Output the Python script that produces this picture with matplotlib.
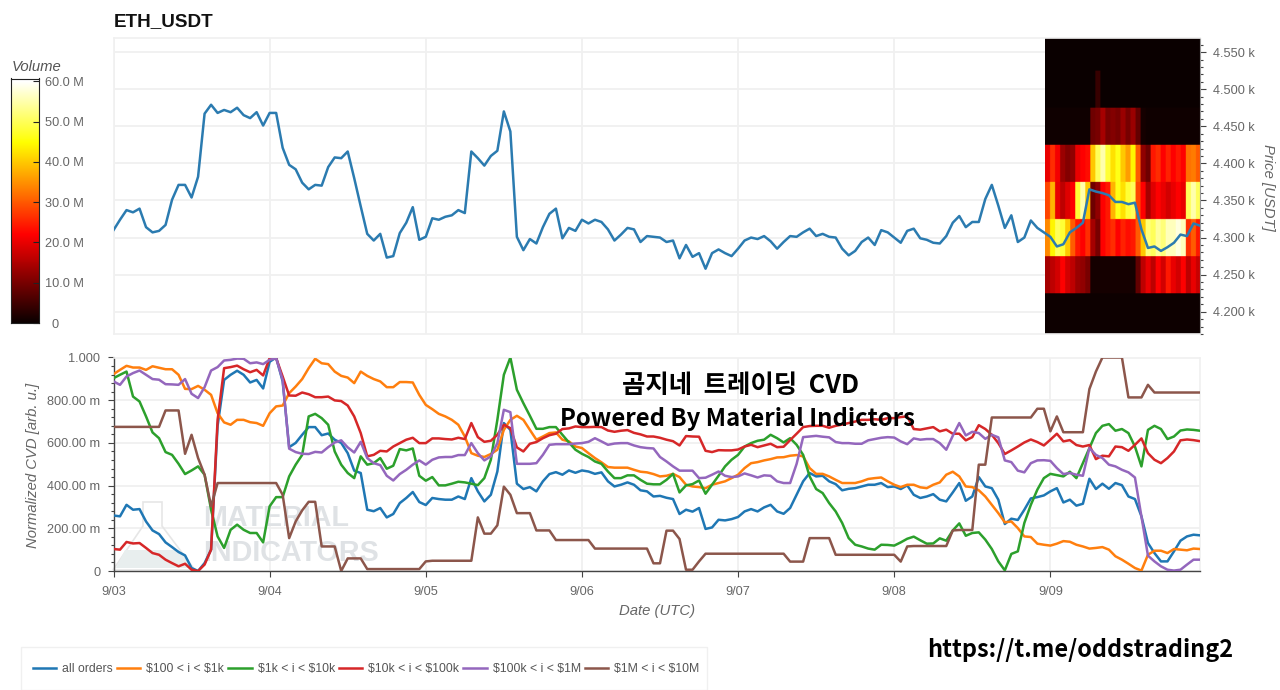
import numpy as np
import pandas as pd
import matplotlib
matplotlib.use("Agg")
import matplotlib.pyplot as plt
import matplotlib.dates as mdates
from matplotlib.lines import Line2D
from matplotlib.patches import Polygon, Rectangle
from matplotlib.ticker import FixedLocator, FuncFormatter, MultipleLocator

plt.rcParams['font.family'] = ['Liberation Sans', 'Noto Sans CJK KR', 'DejaVu Sans']
plt.rcParams['text.parse_math'] = False

# hourly values, one row per day, 9/03 to 9/09
price = [
    4310,4324,4337,4334,4339,4314,4307,4309,4317,4351,4371,4371,4354,4382,4467,4479,4468,4472,4469,4475,4465,4461,4469,4451,
    4468,4468,4421,4398,4392,4374,4365,4371,4370,4395,4408,4407,4416,4380,4342,4305,4296,4305,4273,4275,4306,4320,4341,4297,
    4301,4326,4324,4328,4330,4337,4333,4416,4407,4397,4410,4417,4470,4443,4301,4283,4298,4292,4314,4332,4339,4299,4313,4309,
    4324,4319,4324,4321,4311,4296,4304,4313,4311,4294,4302,4301,4300,4294,4296,4272,4290,4274,4279,4258,4279,4284,4279,4275,
    4285,4296,4300,4298,4302,4295,4285,4294,4302,4301,4307,4312,4302,4305,4301,4300,4285,4276,4282,4294,4300,4290,4310,4307,
    4300,4293,4309,4312,4299,4297,4293,4292,4302,4320,4329,4314,4321,4321,4352,4371,4343,4313,4330,4294,4300,4323,4313,4307,
    4301,4288,4291,4307,4313,4320,4365,4362,4360,4357,4348,4348,4345,4347,4311,4286,4288,4282,4287,4293,4304,4302,4319,4316,
]

# CVD in milli units (the axis reads 800.00 m)
cvd_all = [
    260,256,310,287,290,232,190,173,134,112,89,73,14,0,37,100,680,895,919,938,919,883,895,855,
    980,1000,888,580,600,638,674,674,636,644,615,600,552,470,459,287,280,295,251,267,318,342,370,323,
    309,342,337,334,334,349,337,435,373,326,357,466,693,661,409,384,393,373,420,454,463,451,471,460,
    471,466,455,462,420,396,404,415,404,378,373,349,352,343,337,267,287,278,295,197,204,240,237,243,
    253,279,290,279,298,310,279,268,295,357,420,459,443,446,420,407,378,385,388,396,404,404,412,393,
    396,384,401,357,342,349,360,334,326,368,412,329,349,440,396,388,334,220,245,239,287,340,346,354,
    373,388,321,334,306,315,432,384,409,385,412,402,349,337,256,131,84,45,45,92,142,162,170,167,
]
cvd_100_1k = [
    922,942,961,953,953,942,959,952,945,945,919,853,852,867,849,825,739,696,685,708,708,697,693,680,
    739,771,775,833,864,899,950,994,973,969,934,914,906,880,934,914,899,888,861,861,885,885,883,825,
    778,758,736,724,708,685,630,552,540,534,548,568,661,708,727,708,661,615,630,646,649,615,607,583,
    576,552,529,509,487,484,484,484,474,465,462,454,443,446,455,440,404,396,393,388,404,412,420,435,
    451,482,505,510,518,524,532,533,540,543,537,482,455,455,443,427,412,412,412,420,431,435,438,420,
    404,393,404,404,392,388,404,415,451,465,443,396,393,378,349,310,271,228,232,201,162,159,128,123,
    119,128,140,137,123,115,105,108,112,100,69,53,34,14,2,76,95,95,84,103,100,97,105,103,
]
cvd_1k_10k = [
    903,919,934,817,794,724,649,622,557,544,502,454,471,490,451,287,162,108,193,217,193,178,178,134,
    303,346,346,443,498,544,724,736,716,685,560,498,459,435,537,498,505,529,479,493,571,565,574,446,
    423,440,401,401,409,418,415,409,402,435,521,708,919,1000,849,786,727,666,666,674,674,638,602,568,
    549,534,513,502,466,435,435,448,448,427,409,406,406,427,455,368,401,407,424,362,404,446,490,521,
    544,583,599,610,615,638,622,602,622,591,544,443,384,365,318,279,225,154,123,115,105,100,123,122,
    119,134,151,161,144,128,129,153,142,190,223,165,178,181,147,103,45,3,80,92,225,310,381,435,
    455,449,443,465,435,505,576,646,680,688,657,665,646,583,490,661,680,665,618,630,658,663,661,657,
]
cvd_10k_100k = [
    103,100,136,129,131,108,84,76,53,37,22,34,6,0,30,100,708,950,955,962,945,931,942,916,
    997,997,911,822,821,836,828,814,814,817,799,796,775,724,646,537,544,563,560,583,599,615,624,599,
    599,621,621,618,616,624,618,693,627,605,610,638,685,669,579,560,596,604,622,636,643,665,668,677,
    674,674,675,674,658,652,657,660,647,640,630,630,624,615,608,588,632,630,629,563,557,566,565,565,
    569,583,591,580,588,596,580,582,613,643,674,679,680,680,671,680,686,693,700,708,708,711,708,716,
    716,721,724,665,662,668,674,654,662,643,643,612,627,683,665,638,599,548,565,583,602,616,604,588,
    615,643,607,613,590,583,590,524,540,537,583,580,563,591,621,552,521,505,529,560,612,616,613,608,
]
cvd_100k_1m = [
    888,872,911,927,939,919,899,896,875,874,872,899,830,810,861,939,955,986,989,995,994,973,977,969,
    989,997,895,573,557,549,548,558,555,580,602,612,579,555,605,529,505,496,446,424,454,474,498,518,
    498,521,532,534,534,543,543,599,552,518,537,599,755,744,502,502,502,505,544,591,594,594,594,597,
    599,605,622,607,591,597,599,599,588,580,576,574,534,513,490,470,470,470,435,437,451,466,446,440,
    443,457,448,438,448,446,420,412,412,502,627,630,633,629,626,604,599,599,596,596,612,618,624,627,
    625,607,594,621,615,618,618,599,568,633,693,635,652,646,619,638,626,518,510,470,462,505,518,519,
    516,482,454,459,451,446,576,544,529,498,490,474,462,438,256,72,45,22,6,2,6,30,53,53,
]
cvd_1m_10m = [
    675,675,675,675,675,675,675,675,752,752,752,549,638,529,451,303,412,412,412,412,412,412,412,412,
    412,412,357,154,232,284,324,324,115,115,115,0,59,59,59,9,9,9,9,9,9,9,9,9,
    45,48,48,48,48,48,48,48,251,175,175,214,395,357,271,271,271,190,190,190,145,145,145,145,
    145,145,105,105,105,105,105,105,105,105,105,36,36,189,189,150,6,6,45,81,81,81,81,81,
    81,81,81,81,81,81,81,81,44,44,44,154,154,154,154,76,76,76,76,76,76,76,76,76,
    76,44,115,117,117,117,117,117,117,190,192,192,192,498,498,719,719,719,719,719,719,719,760,760,
    654,724,650,650,650,650,852,934,1000,1000,1000,1000,813,813,813,872,836,836,836,836,836,836,836,836,
]

# volume heatmap (M), one list per 50 USDT price band, low to high
vol_4150 = [0.2]*31
vol_4200 = [0.3]*31
vol_4250 = [14,16,18,22,18,16,13,12,10,1,1,1,1,1,1,1,1,1,8,16,20,16,22,18,24,20,18,22,16,20,17]
vol_4300 = [34,44,50,48,40,30,24,22,26,14,10,22,24,26,22,25,23,24,30,40,52,50,54,52,56,56,58,56,26,30,24]
vol_4350 = [28,38,20,16,19,22,48,55,40,9,12,22,24,38,46,42,48,50,28,22,14,19,22,20,18,20,22,20,50,55,50]
vol_4400 = [20,26,21,13,11,12,20,22,23,40,50,55,48,42,46,40,36,44,30,12,9,24,26,22,25,22,24,22,32,33,30]
vol_4450 = [0.5,0.5,0.5,0.5,0.5,0.5,0.5,0.5,0.5,9,10,14,10,11,10,13,10,13,8,1,0.5,0.5,0.5,0.5,0.5,0.5,0.5,0.5,0.5,0.5,0.5]
vol_4500 = [0.2,0.2,0.2,0.2,0.2,0.2,0.2,0.2,0.2,0.2,4,0.2,0.2,0.2,0.2,0.2,0.2,0.2,0.2,0.2,0.2,0.2,0.2,0.2,0.2,0.2,0.2,0.2,0.2,0.2,0.2]
vol_4550 = [0.2]*31
vol_4600 = [0.2]*31

series = [
    ("all orders", cvd_all, "#1f77b4"),
    ("$100 < i < $1k", cvd_100_1k, "#ff7f0e"),
    ("$1k < i < $10k", cvd_1k_10k, "#2ca02c"),
    ("$10k < i < $100k", cvd_10k_100k, "#d62728"),
    ("$100k < i < $1M", cvd_100k_1m, "#9467bd"),
    ("$1M < i < $10M", cvd_1m_10m, "#8c564b"),
]

times = pd.date_range("2025-09-03", periods=168, freq="h")
heat_span = mdates.date2num(pd.to_datetime(["2025-09-08 23:10", "2025-09-09 23:00"]))
price_edges = np.arange(4125, 4626, 50)
volume = np.array([vol_4150, vol_4200, vol_4250, vol_4300, vol_4350,
                   vol_4400, vol_4450, vol_4500, vol_4550, vol_4600])
# repeat the cells so the bilinear blur stays narrow, like the soft edges in the picture
volume_img = np.repeat(np.repeat(volume, 30, axis=0), 4, axis=1)

GRID = "#f0f0f0"
TXT = "#666666"
AXC = "#444444"
TICK = 9.2
LAB = 10.7


def fx(x):
    return x / 1280


def fy(y):
    return 1 - y / 690


def add_axes_px(left, top, right, bottom):
    return fig.add_axes([fx(left), fy(bottom), (right - left) / 1280, (bottom - top) / 690])


fig = plt.figure(figsize=(12.8, 6.9), dpi=100)

# price panel
ax1 = add_axes_px(113.5, 38, 1200, 334)
ax1.set_axisbelow(True)
ax1.grid(True, color=GRID, linewidth=1.3)
ax1.imshow(volume_img, cmap="hot", vmin=0, vmax=60, aspect="auto", origin="lower", interpolation="bilinear",
           extent=(heat_span[0], heat_span[1], price_edges[0], price_edges[-1]), zorder=1.5)
ax1.plot(times, price, color="#2b7bb0", linewidth=1.8, zorder=3)
ax1.set_xlim(times[0], times[-1])
ax1.set_ylim(4170, 4569)
ax1.xaxis.set_major_locator(mdates.DayLocator())
ax1.tick_params(axis="x", length=0, labelbottom=False)
ax1.yaxis.tick_right()
ax1.yaxis.set_major_locator(MultipleLocator(50))
ax1.yaxis.set_minor_locator(MultipleLocator(10))
ax1.yaxis.set_major_formatter(FuncFormatter(lambda v, p: f"{v / 1000:.3f} k"))
ax1.tick_params(axis="y", which="major", length=4.5, width=0.8, color=AXC, labelcolor=TXT, labelsize=TICK, pad=5)
ax1.tick_params(axis="y", which="minor", length=2.5, width=0.8, color=AXC)
for name, sp in ax1.spines.items():
    sp.set_color(GRID)
    sp.set_linewidth(1.2)
ax1.spines["right"].set_color("#999999")
ax1.spines["right"].set_linewidth(0.8)

# CVD panel
ax2 = add_axes_px(113.5, 357.5, 1200, 571)
ax2.set_axisbelow(True)
ax2.grid(True, color=GRID, linewidth=1.3)
for name, vals, col in series:
    ax2.plot(times, np.array(vals) / 1000, color=col, linewidth=1.8, label=name, zorder=3)
ax2.set_xlim(times[0], times[-1])
ax2.set_ylim(0, 1)
ax2.xaxis.set_major_locator(mdates.DayLocator())
ax2.xaxis.set_major_formatter(mdates.DateFormatter("%-m/%d"))
ax2.yaxis.set_major_locator(MultipleLocator(0.2))
ax2.yaxis.set_minor_locator(MultipleLocator(0.04))


def cvd_label(v, p):
    if v < 1e-6:
        return "0"
    if v > 0.999:
        return "1.000"
    return f"{v * 1000:.2f} m"


ax2.yaxis.set_major_formatter(FuncFormatter(cvd_label))
ax2.tick_params(axis="both", which="major", length=4.5, width=0.8, color=AXC, labelcolor=TXT, labelsize=TICK, pad=5)
ax2.tick_params(axis="x", pad=6.5)
ax2.tick_params(axis="y", which="minor", length=2.5, width=0.8, color=AXC)
for name, sp in ax2.spines.items():
    sp.set_color(GRID)
    sp.set_linewidth(1.2)
for name in ("left", "bottom"):
    ax2.spines[name].set_color(AXC)
    ax2.spines[name].set_linewidth(1.0)
ax2.set_zorder(2)

# watermark under the lines
wm = "#dfe2e5"
flask = [(143, 502), (162, 502), (162, 526), (195, 570), (113, 570), (143, 526)]
ax2.add_patch(Polygon([(fx(x), fy(y)) for x, y in flask], closed=True, fill=False, edgecolor="#e6e6e6",
                      linewidth=1.2, transform=fig.transFigure, zorder=1, clip_on=False))
body = [(125, 550), (180, 550), (192, 568), (116, 568)]
ax2.add_patch(Polygon([(fx(x), fy(y)) for x, y in body], closed=True, facecolor="#e8eeee", edgecolor="none",
                      transform=fig.transFigure, zorder=1))
ax2.text(fx(203), fy(518), "MATERIAL", transform=fig.transFigure, color=wm, fontsize=20.7, weight="bold", va="center", zorder=1)
ax2.text(fx(203), fy(553), "INDICATORS", transform=fig.transFigure, color=wm, fontsize=20.7, weight="bold", va="center", zorder=1)

# colour bar
cax = add_axes_px(11, 78.5, 39, 323)
cax.imshow(np.linspace(0, 60.7, 256).reshape(-1, 1), cmap="hot", vmin=0, vmax=60, aspect="auto",
           origin="lower", extent=(0, 1, 0, 60.7))
cax.set_xticks([])
cax.yaxis.tick_right()
cax.yaxis.set_major_locator(FixedLocator([0, 10, 20, 30, 40, 50, 60]))
cax.yaxis.set_major_formatter(FuncFormatter(lambda v, p: "  0" if v == 0 else f"{v:.1f} M"))
cax.tick_params(axis="y", direction="in", length=4, width=0.8, color="#222222", labelcolor=TXT, labelsize=TICK, pad=4.5)
for sp in cax.spines.values():
    sp.set_color("#222222")
    sp.set_linewidth(0.8)

# texts
fig.text(fx(114), fy(22), "ETH_USDT", fontsize=13.6, weight="bold", color="#111111", va="center")
fig.text(fx(12), fy(67), "Volume", fontsize=LAB, style="italic", color="#555555", va="center")
fig.text(fx(1268), fy(187), "Price [USDT]", fontsize=LAB, style="italic", color=TXT, rotation=-90, ha="center", va="center")
fig.text(fx(33), fy(465), "Normalized CVD [arb. u.]", fontsize=LAB, style="italic", color=TXT, rotation=90, ha="center", va="center")
fig.text(fx(657), fy(611), "Date (UTC)", fontsize=LAB, style="italic", color=TXT, ha="center", va="center")

over = ["Noto Sans CJK KR", "DejaVu Sans"]
fig.text(fx(740), fy(386), "곰지네  트레이딩  CVD", family=over, fontsize=18.3, weight="bold", color="black", ha="center", va="center", zorder=10)
fig.text(fx(737), fy(419), "Powered By Material Indictors", family=over, fontsize=17.2, weight="bold", color="black", ha="center", va="center", zorder=10)
fig.text(fx(1080), fy(650), "https://t.me/oddstrading2", family=over, fontsize=16.9, weight="bold", color="black", ha="center", va="center", zorder=10)

# legend box
fig.add_artist(Rectangle((fx(21), fy(690)), 686 / 1280, 43 / 690, transform=fig.transFigure,
                         facecolor="white", edgecolor="#f0f0f0", linewidth=1))
handles = [Line2D([], [], color=c, linewidth=1.8) for n, v, c in series]
fig.legend(handles, [n for n, v, c in series], loc="center left", bbox_to_anchor=(fx(33), fy(669)),
           ncol=6, frameon=False, fontsize=8.8, borderpad=0, borderaxespad=0, handlelength=1.9,
           handletextpad=0.5, columnspacing=0.33, labelcolor="#555555")

fig.savefig("out.png", dpi=100)
